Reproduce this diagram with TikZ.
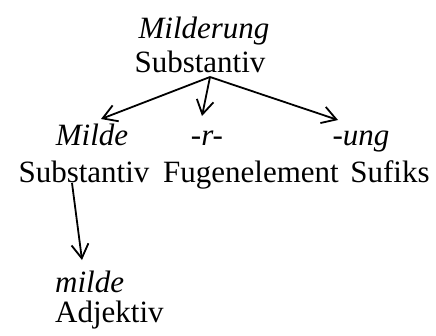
\documentclass[tikz,border=0pt]{standalone}
\usepackage{fontspec}
\setmainfont{Liberation Serif}
\usetikzlibrary{arrows.meta}
\begin{document}
\begin{tikzpicture}[x=1pt,y=-1pt,
  txt/.style={inner sep=0pt, anchor=base, font=\fontsize{31}{36}\selectfont},
  it/.style={txt, font=\fontsize{31}{36}\selectfont\itshape},
  arr/.style={-{Straight Barb[length=14pt,width=17pt]}, line width=1.8pt}]
\useasboundingbox (0,0) rectangle (436,335);
\node[it] (a1) at (204,38) {Milderung};
\node[txt] (a2) at (200,72) {Substantiv};
\coordinate (s) at (210,77);
\node[it] (b1) at (92,145) {Milde};
\node[it] (c1) at (207,145) {-r-};
\node[it] (d1) at (361,145) {-ung};
\node[txt] (b2) at (84,182) {Substantiv};
\node[txt] (c2) at (251,182) {Fugenelement};
\node[txt] (d2) at (390,182) {Sufiks};
\node[it, anchor=base west] (e1) at (55,292) {milde};
\node[txt, anchor=base west] (e2) at (55,322) {Adjektiv};
\coordinate (tb) at (101,119);
\coordinate (tc) at (202,116);
\coordinate (td) at (338,120);
\coordinate (sb) at (72,183);
\coordinate (te) at (82,260);
\draw[arr] (s) -- (tb);
\draw[arr] (s) -- (tc);
\draw[arr] (s) -- (td);
\draw[arr] (sb) -- (te);
\end{tikzpicture}
\end{document}
